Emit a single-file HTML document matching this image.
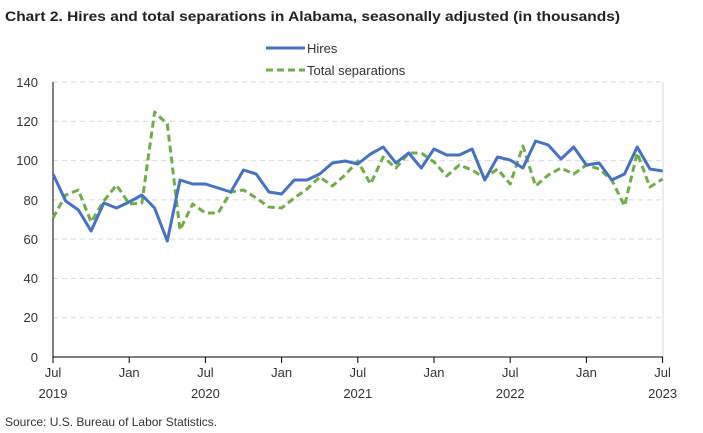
<!DOCTYPE html>
<html><head><meta charset="utf-8"><style>
body{margin:0;background:#fff;}
svg{display:block;font-family:"Liberation Sans",sans-serif;}
</style></head><body>
<svg width="703" height="433" viewBox="0 0 703 433">
<text x="5" y="21" font-size="14" font-weight="bold" fill="#222" textLength="615" lengthAdjust="spacingAndGlyphs">Chart 2. Hires and total separations in Alabama, seasonally adjusted (in thousands)</text>
<line x1="266" y1="48" x2="305" y2="48" stroke="#4472C4" stroke-width="3"/>
<text x="307" y="53" font-size="13" fill="#333">Hires</text>
<line x1="266" y1="70" x2="305" y2="70" stroke="#70AD47" stroke-width="3" stroke-dasharray="7,4"/>
<text x="307" y="75" font-size="13" fill="#333">Total separations</text>
<g stroke="#d9d9d9" stroke-dasharray="5,4" stroke-width="1">
<line x1="53" y1="82" x2="663" y2="82"/><line x1="53" y1="121.3" x2="663" y2="121.3"/><line x1="53" y1="160.6" x2="663" y2="160.6"/><line x1="53" y1="199.9" x2="663" y2="199.9"/><line x1="53" y1="239.1" x2="663" y2="239.1"/><line x1="53" y1="278.4" x2="663" y2="278.4"/><line x1="53" y1="317.7" x2="663" y2="317.7"/>
</g>
<line x1="663" y1="82" x2="663" y2="357" stroke="#d9d9d9"/>
<line x1="53" y1="82" x2="53" y2="357" stroke="#000"/>
<line x1="53" y1="357" x2="663" y2="357" stroke="#000"/>
<g font-size="13" fill="#333" text-anchor="end">
<text x="38" y="87">140</text><text x="38" y="126">120</text><text x="38" y="165">100</text><text x="38" y="205">80</text><text x="38" y="244">60</text><text x="38" y="283">40</text><text x="38" y="322">20</text><text x="38" y="362">0</text>
</g>
<g stroke="#000"><line x1="53" y1="357" x2="53" y2="363"/><line x1="129.2" y1="357" x2="129.2" y2="363"/><line x1="205.4" y1="357" x2="205.4" y2="363"/><line x1="281.6" y1="357" x2="281.6" y2="363"/><line x1="357.8" y1="357" x2="357.8" y2="363"/><line x1="434" y1="357" x2="434" y2="363"/><line x1="510.2" y1="357" x2="510.2" y2="363"/><line x1="586.4" y1="357" x2="586.4" y2="363"/><line x1="662.6" y1="357" x2="662.6" y2="363"/></g>
<g font-size="13" fill="#333" text-anchor="middle">
<text x="53" y="377">Jul</text><text x="129.2" y="377">Jan</text><text x="205.4" y="377">Jul</text><text x="281.6" y="377">Jan</text><text x="357.8" y="377">Jul</text><text x="434" y="377">Jan</text><text x="510.2" y="377">Jul</text><text x="586.4" y="377">Jan</text><text x="662.6" y="377">Jul</text>
<text x="53" y="398">2019</text><text x="205.4" y="398">2020</text><text x="357.8" y="398">2021</text><text x="510.2" y="398">2022</text><text x="662.6" y="398">2023</text>
</g>
<text x="5" y="426" font-size="12" fill="#333">Source: U.S. Bureau of Labor Statistics.</text>
<polyline fill="none" stroke="#70AD47" stroke-width="3" stroke-dasharray="7,4" stroke-linejoin="round" points="53,218 65.7,195 78.4,190 91.1,222 103.8,201 116.5,185 129.2,204 141.9,203 154.6,112 167.3,124 180,230 192.7,204 205.4,213 218.1,213 230.8,192 243.5,190 256.2,198 268.9,207 281.6,208 294.3,198 307,189 319.7,177 332.4,186 345.1,175 357.8,161 370.5,184 383.2,157 395.9,168 408.6,153 421.3,153 434,162 446.7,176 459.4,165 472.1,170 484.8,178 497.5,169 510.2,184 522.9,146 535.6,186 548.3,175 561,168 573.7,174 586.4,165 599.1,169 611.8,180 624.5,206 637.2,153 649.9,187 662.6,179"/>
<polyline fill="none" stroke="#4472C4" stroke-width="3" stroke-linejoin="round" points="53,174 65.7,201 78.4,210 91.1,231 103.8,203 116.5,208 129.2,202 141.9,195 154.6,208 167.3,241 180,180 192.7,184 205.4,184 218.1,188 230.8,192 243.5,170 256.2,174 268.9,192 281.6,194 294.3,180 307,180 319.7,174 332.4,163 345.1,161 357.8,164 370.5,154 383.2,147 395.9,163 408.6,153 421.3,168 434,149 446.7,155 459.4,155 472.1,149 484.8,180 497.5,157 510.2,160 522.9,168 535.6,141 548.3,145 561,159 573.7,147 586.4,165 599.1,163 611.8,180 624.5,174 637.2,147 649.9,169 662.6,171"/>
</svg>
</body></html>
